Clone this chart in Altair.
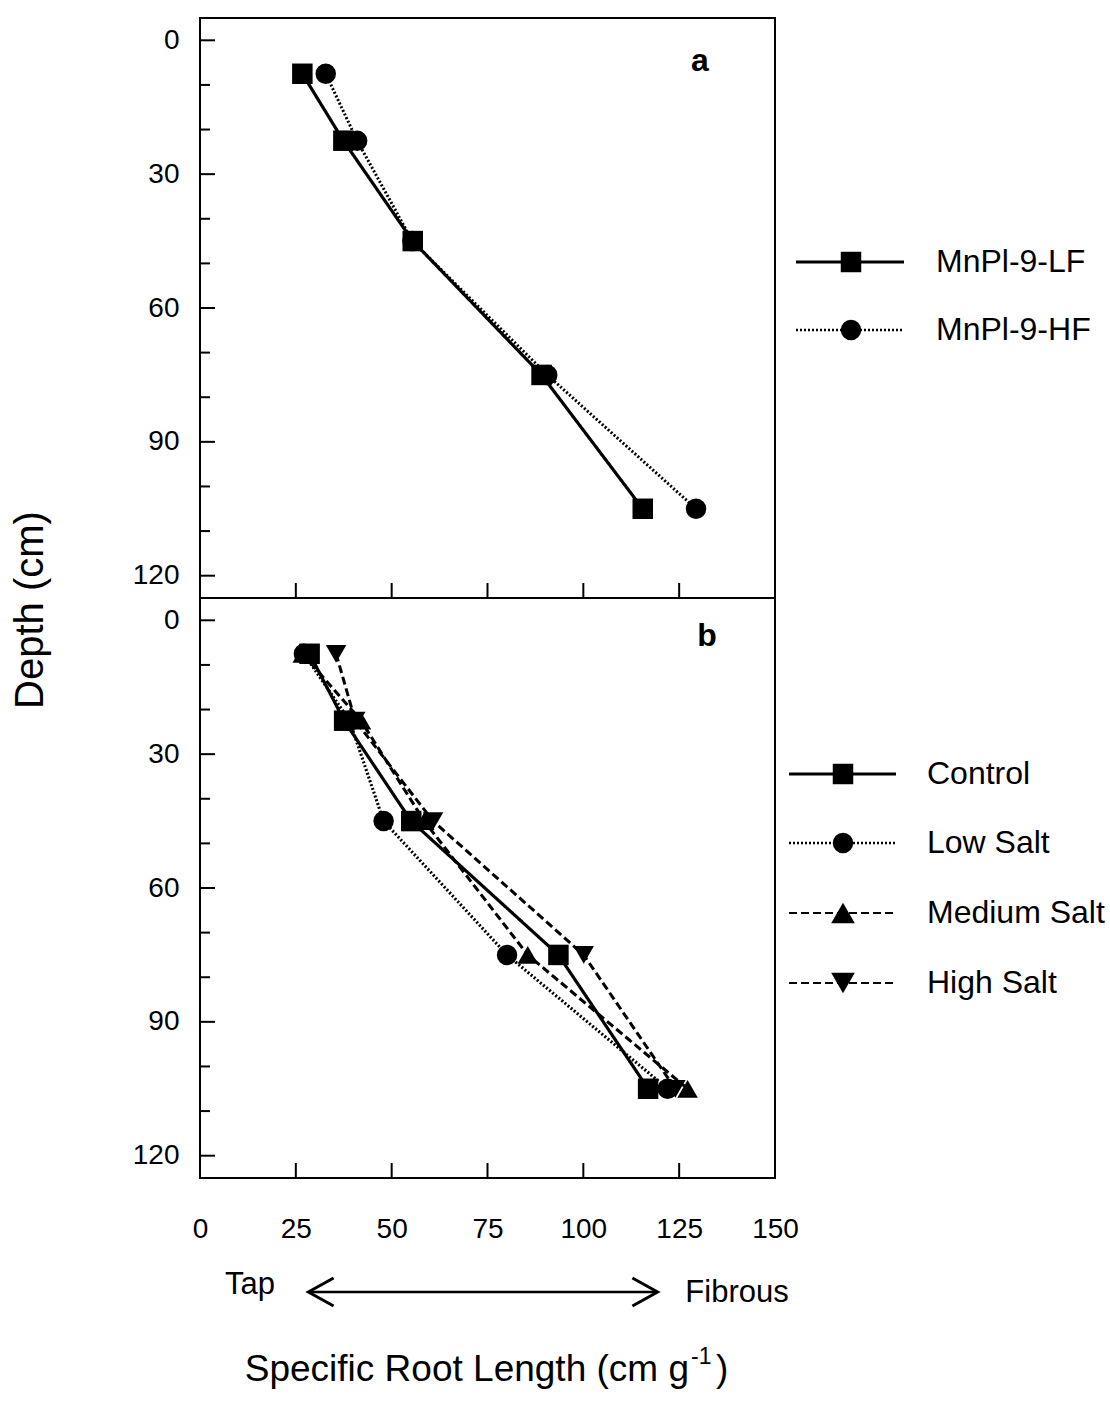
import altair as alt
import pandas as pd

# ---------------- data ----------------
depth = [7.5, 22.5, 45, 75, 105]

a_series = ["MnPl-9-LF", "MnPl-9-HF"]
a_lf = [26.7, 37.4, 55.5, 89.1, 115.5]
a_hf = [32.8, 41.0, 55.4, 90.6, 129.4]

b_series = ["Control", "Low Salt", "Medium Salt", "High Salt"]
b_control = [28.6, 37.6, 55.1, 93.5, 116.9]
b_low = [27.1, 39.0, 47.9, 80.1, 122.0]
b_medium = [26.8, 42.0, 58.5, 85.5, 127.2]
b_high = [35.5, 40.5, 60.8, 100.1, 124.0]

x_tick_labels = [0, 25, 50, 75, 100, 125, 150]
x_inner_ticks = [25, 50, 75, 100, 125]
y_tick_labels = [0, 30, 60, 90, 120]
y_minor_ticks = [10, 20, 40, 50, 70, 80, 100, 110]

# ---------------- styling ----------------
FONT = "Liberation Sans"
W, H = 575, 580
X_DOMAIN = [0, 150]
Y_DOMAIN = [-5, 125]

STYLE = {
    "MnPl-9-LF": dict(shape="square", dash=[1, 0], width=3.2, size=420),
    "MnPl-9-HF": dict(shape="circle", dash=[2, 2], width=3.0, size=420),
    "Control": dict(shape="square", dash=[1, 0], width=3.2, size=420),
    "Low Salt": dict(shape="circle", dash=[2, 2], width=3.0, size=420),
    "Medium Salt": dict(shape="triangle-up", dash=[8, 4], width=2.6, size=560),
    "High Salt": dict(shape="triangle-down", dash=[8, 4], width=2.6, size=560),
}


def long_df(series, values):
    rows = []
    for s, vals in zip(series, values):
        for d, v in zip(depth, vals):
            rows.append({"series": s, "depth": d, "srl": v})
    return pd.DataFrame(rows)


Y_AXIS = alt.Axis(values=y_tick_labels, title=None, ticks=False, domain=False,
                  grid=False, labelFont=FONT, labelFontSize=28, labelPadding=21,
                  labelColor="black")
X_AXIS_B = alt.Axis(values=x_tick_labels, title=None, ticks=False, domain=False,
                    grid=False, labelFont=FONT, labelFontSize=28, labelPadding=37,
                    labelFlush=False, labelOverlap=False, labelColor="black",
                    format="d")

def xenc(axis):
    return alt.X("srl:Q", scale=alt.Scale(domain=X_DOMAIN, nice=False, zero=False),
                 axis=axis)

def yenc():
    return alt.Y("depth:Q", scale=alt.Scale(domain=Y_DOMAIN, nice=False, zero=False,
                                            reverse=True), axis=Y_AXIS)


def panel(series, values, letter, letter_pos, legend_geo, x_axis):
    df = long_df(series, values)
    shape_sc = alt.Scale(domain=series, range=[STYLE[s]["shape"] for s in series])
    dash_sc = alt.Scale(domain=series, range=[STYLE[s]["dash"] for s in series])
    width_sc = alt.Scale(domain=series, range=[STYLE[s]["width"] for s in series])
    size_sc = alt.Scale(domain=series, range=[STYLE[s]["size"] for s in series])

    lines = alt.Chart(df).mark_line(color="black").encode(
        x=xenc(x_axis), y=yenc(),
        detail="series:N",
        strokeDash=alt.StrokeDash("series:N", scale=dash_sc, legend=None),
        strokeWidth=alt.StrokeWidth("series:N", scale=width_sc, legend=None),
        order=alt.Order("depth:Q"),
    )
    points = alt.Chart(df).mark_point(filled=True, color="black", opacity=1).encode(
        x=xenc(x_axis), y=yenc(),
        shape=alt.Shape("series:N", scale=shape_sc, legend=None),
        size=alt.Size("series:N", scale=size_sc, legend=None),
    )
    # inward ticks
    ymin = alt.Chart(pd.DataFrame({"depth": y_minor_ticks})).mark_rule(
        color="black", strokeWidth=2).encode(y=yenc(), x=alt.value(0), x2=alt.value(10))
    ymaj = alt.Chart(pd.DataFrame({"depth": y_tick_labels})).mark_rule(
        color="black", strokeWidth=2).encode(y=yenc(), x=alt.value(0), x2=alt.value(15))
    xt = alt.Chart(pd.DataFrame({"srl": x_inner_ticks})).mark_rule(
        color="black", strokeWidth=2).encode(x=xenc(x_axis), y=alt.value(H),
                                             y2=alt.value(H - 15))
    lab = alt.Chart(pd.DataFrame({"t": [letter]})).mark_text(
        font=FONT, fontSize=32, fontWeight="bold", color="black").encode(
        x=alt.value(letter_pos[0]), y=alt.value(letter_pos[1]), text="t:N")

    layers = [lines, points, ymin, ymaj, xt, lab]

    x0, x1, xm, xtxt, ys = legend_geo
    for s, yy in zip(series, ys):
        st = STYLE[s]
        d1 = pd.DataFrame({"s": [s]})
        layers.append(alt.Chart(d1).mark_rule(
            color="black", strokeWidth=st["width"] - 0.4, strokeDash=st["dash"]).encode(
            x=alt.value(x0), x2=alt.value(x1), y=alt.value(yy)))
        layers.append(alt.Chart(d1).mark_point(
            shape=st["shape"], filled=True, color="black", opacity=1,
            size=st["size"]).encode(x=alt.value(xm), y=alt.value(yy)))
        layers.append(alt.Chart(d1).mark_text(
            align="left", baseline="middle", font=FONT, fontSize=32,
            color="black").encode(x=alt.value(xtxt), y=alt.value(yy), text="s:N"))
    return layers


layers_a = panel(a_series, [a_lf, a_hf], "a", (500, 43),
                 (596, 704, 651, 736, [244, 312]), None)
layers_b = panel(b_series, [b_control, b_low, b_medium, b_high], "b", (507, 38),
                 (589, 696, 643, 727, [176, 245, 315, 385]), X_AXIS_B)

one = pd.DataFrame({"t": ["x"]})
# Tap <-> Fibrous arrow
layers_b.append(alt.Chart(one).mark_rule(color="black", strokeWidth=2.5).encode(
    x=alt.value(110), x2=alt.value(456), y=alt.value(694)))
layers_b.append(alt.Chart(one).mark_point(
    shape="M 0.9 -1 L -0.9 0 L 0.9 1", filled=False, color="black", strokeWidth=3,
    size=784, opacity=1).encode(x=alt.value(121), y=alt.value(694)))
layers_b.append(alt.Chart(one).mark_point(
    shape="M -0.9 -1 L 0.9 0 L -0.9 1", filled=False, color="black", strokeWidth=3,
    size=784, opacity=1).encode(x=alt.value(445), y=alt.value(694)))
layers_b.append(alt.Chart(pd.DataFrame({"t": ["Tap"]})).mark_text(
    font=FONT, fontSize=31, color="black", baseline="middle").encode(
    x=alt.value(50), y=alt.value(687), text="t:N"))
layers_b.append(alt.Chart(pd.DataFrame({"t": ["Fibrous"]})).mark_text(
    font=FONT, fontSize=31, color="black", baseline="middle").encode(
    x=alt.value(537), y=alt.value(695), text="t:N"))
# x title with superscript
layers_b.append(alt.Chart(pd.DataFrame({"t": ["Specific Root Length (cm g"]})).mark_text(
    font=FONT, fontSize=37, color="black", align="right", baseline="alphabetic").encode(
    x=alt.value(489), y=alt.value(783), text="t:N"))
layers_b.append(alt.Chart(pd.DataFrame({"t": ["-1"]})).mark_text(
    font=FONT, fontSize=23, color="black", align="left", baseline="alphabetic").encode(
    x=alt.value(491), y=alt.value(766), text="t:N"))
layers_b.append(alt.Chart(pd.DataFrame({"t": [")"]})).mark_text(
    font=FONT, fontSize=37, color="black", align="left", baseline="alphabetic").encode(
    x=alt.value(516), y=alt.value(783), text="t:N"))
# y title spanning both panels
layers_b.append(alt.Chart(pd.DataFrame({"t": ["Depth (cm)"]})).mark_text(
    font=FONT, fontSize=40, color="black", angle=270, align="center",
    baseline="middle").encode(x=alt.value(-169), y=alt.value(12), text="t:N"))

panel_a = alt.layer(*layers_a).properties(width=W, height=H)
panel_b = alt.layer(*layers_b).properties(width=W, height=H)

chart = alt.vconcat(panel_a, panel_b, spacing=0).resolve_scale(
    shape="independent", size="independent", strokeDash="independent",
    strokeWidth="independent",
).properties(
    bounds="flush",
    padding={"left": 9, "top": 17, "right": 0, "bottom": 0},
    background="white",
).configure_view(stroke="black", strokeWidth=2)

chart.save("out.html", embed_options={"renderer": "svg", "actions": False})
